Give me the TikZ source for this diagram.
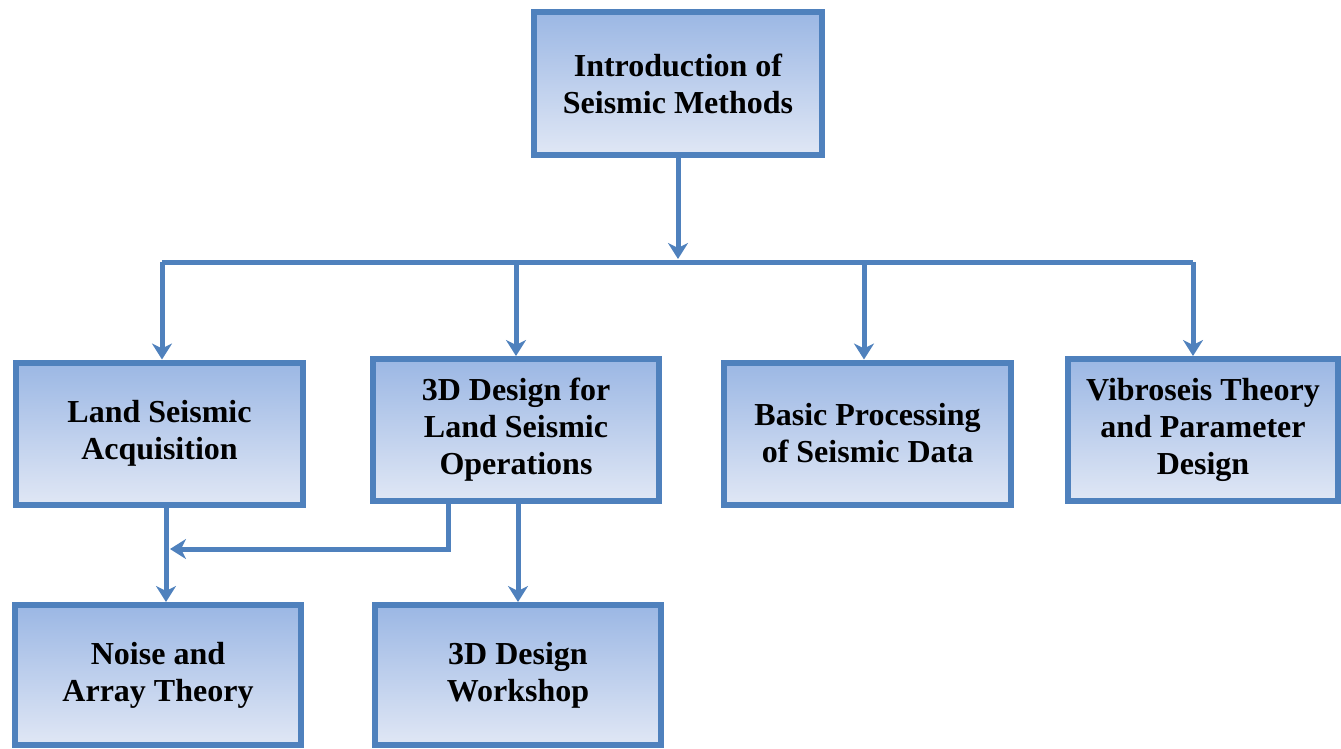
\documentclass[tikz,border=0pt]{standalone}
\usepackage{fontspec}
\setmainfont{Liberation Serif}
\usetikzlibrary{arrows.meta}
\definecolor{boxline}{RGB}{79,129,189}
\definecolor{boxtop}{RGB}{155,183,228}
\definecolor{boxbot}{RGB}{224,231,245}
\tikzset{
  course/.style={draw=boxline,line width=6pt,top color=boxtop,bottom color=boxbot,
    align=center,inner sep=0pt,minimum width=288pt,minimum height=142pt,
    font=\fontsize{32}{37}\selectfont\bfseries},
  flow/.style={draw=boxline,line width=5pt,-{Stealth[length=16pt,width=20pt,inset=5pt]}},
  bus/.style={draw=boxline,line width=5pt}
}
\begin{document}
\begin{tikzpicture}[x=1pt,y=-1pt]
\useasboundingbox (0,0) rectangle (1341,748);
\node[course,minimum height=143pt] (intro) at (678,83.5) {Introduction of\\Seismic Methods};
\node[course,minimum width=287pt] (land) at (159.5,433.5) {Land Seismic\\Acquisition};
\node[course,minimum width=286pt] (design) at (516,430) {3D Design for\\Land Seismic\\Operations};
\node[course,minimum width=287pt] (basic) at (867.5,433.5) {Basic Processing\\of Seismic Data};
\node[course,minimum width=270pt] (vibro) at (1203,430) {Vibroseis Theory\\and Parameter\\Design};
\node[course,minimum width=286pt,minimum height=140pt] (noise) at (158,675) {Noise and\\Array Theory};
\node[course,minimum width=286pt,minimum height=140pt] (workshop) at (518,675) {3D Design\\Workshop};
% bus line under the top box
\coordinate (b1) at (162,262);
\coordinate (b2) at (516,262);
\coordinate (b3) at (864,262);
\coordinate (b4) at (1193,262);
\coordinate (top) at (678,259);
\draw[flow] (intro.south) -- (top);
\draw[bus] (b1) -- (b4);
\foreach \b/\n in {b1/land,b2/design,b3/basic,b4/vibro}
  \draw[flow] (\b) -- (\b |- \n.north);
% lower level
\coordinate (j1) at (166,549);
\coordinate (j2) at (170,549);
\coordinate (k1) at (448,549);
\draw[flow] (land.south -| j1) -- (noise.north -| j1);
\draw[flow] (k1 |- design.south) -- (k1) -- (j2);
\draw[flow] (design.south -| workshop.north) -- (workshop.north);
\end{tikzpicture}
\end{document}
